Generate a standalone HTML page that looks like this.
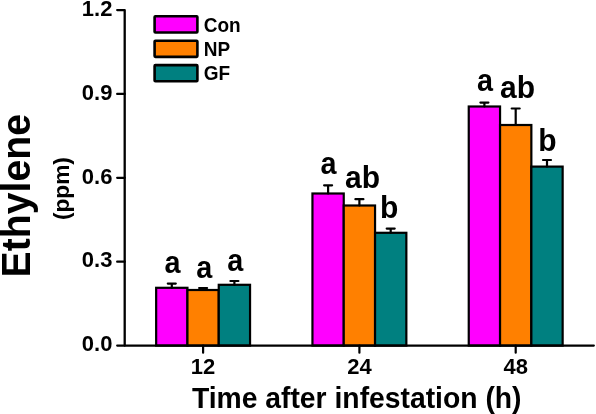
<!DOCTYPE html><html><head><meta charset="utf-8"><style>html,body{margin:0;padding:0;background:#fff;overflow:hidden}svg{display:block;will-change:transform}</style></head><body><svg width="596" height="414" viewBox="0 0 596 414">
<rect width="596" height="414" fill="#fff"/>
<rect x="156.15" y="287.80" width="31.30" height="57.80" fill="#ff00ff" stroke="#000" stroke-width="2.2"/>
<path d="M171.80 287.80V283.60M167.80 283.60H175.80" stroke="#000" stroke-width="2.2" fill="none" stroke-linecap="round"/>
<rect x="187.45" y="290.00" width="31.30" height="55.60" fill="#ff8000" stroke="#000" stroke-width="2.2"/>
<path d="M203.10 290.00V288.00M199.10 288.00H207.10" stroke="#000" stroke-width="2.2" fill="none" stroke-linecap="round"/>
<rect x="218.75" y="284.80" width="31.30" height="60.80" fill="#008080" stroke="#000" stroke-width="2.2"/>
<path d="M234.40 284.80V281.00M230.40 281.00H238.40" stroke="#000" stroke-width="2.2" fill="none" stroke-linecap="round"/>
<rect x="312.45" y="193.50" width="31.30" height="152.10" fill="#ff00ff" stroke="#000" stroke-width="2.2"/>
<path d="M328.10 193.50V185.30M324.10 185.30H332.10" stroke="#000" stroke-width="2.2" fill="none" stroke-linecap="round"/>
<rect x="343.75" y="205.50" width="31.30" height="140.10" fill="#ff8000" stroke="#000" stroke-width="2.2"/>
<path d="M359.40 205.50V199.20M355.40 199.20H363.40" stroke="#000" stroke-width="2.2" fill="none" stroke-linecap="round"/>
<rect x="375.05" y="232.80" width="31.30" height="112.80" fill="#008080" stroke="#000" stroke-width="2.2"/>
<path d="M390.70 232.80V228.60M386.70 228.60H394.70" stroke="#000" stroke-width="2.2" fill="none" stroke-linecap="round"/>
<rect x="468.75" y="106.50" width="31.30" height="239.10" fill="#ff00ff" stroke="#000" stroke-width="2.2"/>
<path d="M484.40 106.50V102.60M480.40 102.60H488.40" stroke="#000" stroke-width="2.2" fill="none" stroke-linecap="round"/>
<rect x="500.05" y="125.00" width="31.30" height="220.60" fill="#ff8000" stroke="#000" stroke-width="2.2"/>
<path d="M515.70 125.00V108.50M511.70 108.50H519.70" stroke="#000" stroke-width="2.2" fill="none" stroke-linecap="round"/>
<rect x="531.35" y="166.60" width="31.30" height="179.00" fill="#008080" stroke="#000" stroke-width="2.2"/>
<path d="M547.00 166.60V160.00M543.00 160.00H551.00" stroke="#000" stroke-width="2.2" fill="none" stroke-linecap="round"/>
<path d="M117.2 10.08H124.7V345.6" stroke="#000" stroke-width="2.3" fill="none" stroke-linecap="round" stroke-linejoin="round"/>
<path d="M117.2 345.6H593.8" stroke="#000" stroke-width="2.3" fill="none" stroke-linecap="round"/>
<path d="M117.2 261.72H124.7" stroke="#000" stroke-width="2.3" fill="none" stroke-linecap="round"/>
<path d="M117.2 177.84H124.7" stroke="#000" stroke-width="2.3" fill="none" stroke-linecap="round"/>
<path d="M117.2 93.96H124.7" stroke="#000" stroke-width="2.3" fill="none" stroke-linecap="round"/>
<path d="M203.10 345.6V352.7" stroke="#000" stroke-width="2.2" fill="none" stroke-linecap="round"/>
<path d="M359.40 345.6V352.7" stroke="#000" stroke-width="2.2" fill="none" stroke-linecap="round"/>
<path d="M515.70 345.6V352.7" stroke="#000" stroke-width="2.2" fill="none" stroke-linecap="round"/>
<g font-family="'Liberation Sans', sans-serif" font-weight="bold" fill="#000">
<text transform="translate(112.4 351.30) scale(1 0.98)" font-size="22" text-anchor="end">0.0</text>
<text transform="translate(112.4 267.42) scale(1 0.98)" font-size="22" text-anchor="end">0.3</text>
<text transform="translate(112.4 183.54) scale(1 0.98)" font-size="22" text-anchor="end">0.6</text>
<text transform="translate(112.4 99.66) scale(1 0.98)" font-size="22" text-anchor="end">0.9</text>
<text transform="translate(112.4 15.78) scale(1 0.98)" font-size="22" text-anchor="end">1.2</text>
<text transform="translate(203.10 374.0) scale(1 1.02)" font-size="22" text-anchor="middle">12</text>
<text transform="translate(359.40 374.0) scale(1 1.02)" font-size="22" text-anchor="middle">24</text>
<text transform="translate(515.70 374.0) scale(1 1.02)" font-size="22" text-anchor="middle">48</text>
<text transform="translate(191.9 407.5) scale(1 1.01)" font-size="28.3">Time after infestation (h)</text>
<text transform="translate(29.7 277.4) rotate(-90) scale(1 1.04)" font-size="39.2">Ethylene</text>
<text transform="translate(69.1 220.1) rotate(-90)" font-size="22.7">(ppm)</text>
<text transform="translate(172.60 273.40) scale(0.96 1.06)" font-size="30" text-anchor="middle">a</text>
<text transform="translate(204.20 277.80) scale(0.96 1.06)" font-size="30" text-anchor="middle">a</text>
<text transform="translate(235.20 271.00) scale(0.96 1.06)" font-size="30" text-anchor="middle">a</text>
<text transform="translate(328.60 174.10) scale(0.96 1.06)" font-size="30" text-anchor="middle">a</text>
<text transform="translate(362.50 187.90) scale(1 1.02)" font-size="30" text-anchor="middle">ab</text>
<text transform="translate(389.20 217.90) scale(1 1.02)" font-size="30" text-anchor="middle">b</text>
<text transform="translate(484.90 90.90) scale(0.96 1.06)" font-size="30" text-anchor="middle">a</text>
<text transform="translate(517.50 98.20) scale(1 1.02)" font-size="30" text-anchor="middle">ab</text>
<text transform="translate(547.50 151.10) scale(1 1.02)" font-size="30" text-anchor="middle">b</text>
<rect x="154.6" y="16.30" width="42.8" height="16.2" fill="#ff00ff" stroke="#000" stroke-width="2.6" rx="0.8"/>
<text transform="translate(203.8 31.60) scale(1 1.04)" font-size="19">Con</text>
<rect x="154.6" y="40.70" width="42.8" height="16.2" fill="#ff8000" stroke="#000" stroke-width="2.6" rx="0.8"/>
<text transform="translate(203.8 55.80) scale(1 1.04)" font-size="19">NP</text>
<rect x="154.6" y="65.10" width="42.8" height="16.2" fill="#008080" stroke="#000" stroke-width="2.6" rx="0.8"/>
<text transform="translate(203.8 80.00) scale(1 1.04)" font-size="19">GF</text>
</g></svg></body></html>
